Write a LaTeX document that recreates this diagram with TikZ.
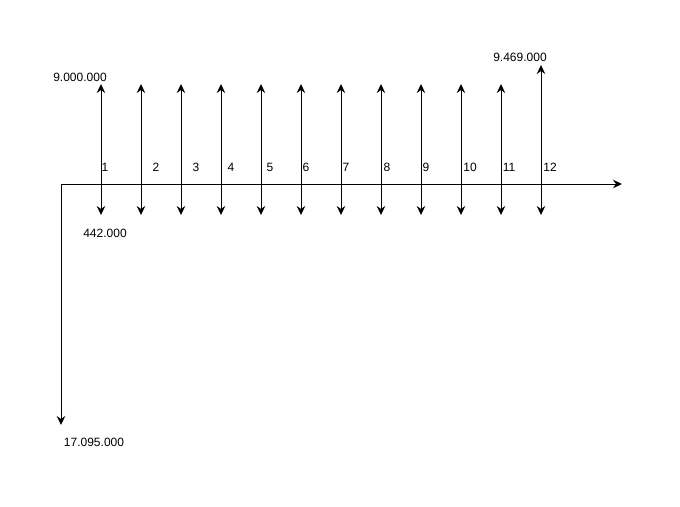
\documentclass[tikz,border=0pt]{standalone}
\usepackage{fontspec}
\setmainfont{Liberation Sans}
\usetikzlibrary{arrows.meta}
\begin{document}
\begin{tikzpicture}[x=1pt,y=-1pt,
  tipstyle/.style={},
  flow/.style={line width=1pt,{Stealth[length=9pt,width=8.5pt,inset=3pt]}-{Stealth[length=9pt,width=8.5pt,inset=3pt]}},
  axisline/.style={line width=1pt,-{Stealth[length=9pt,width=8.5pt,inset=3pt]}},
  lbl/.style={font=\fontsize{12pt}{14pt}\selectfont,inner sep=0pt}]
\useasboundingbox (0,0) rectangle (680,506);
\coordinate (o) at (61,184);
\coordinate (xend) at (622,184);
\coordinate (yend) at (61,425);
\draw[axisline] (o) -- (xend);
\draw[axisline] (o) -- (yend);
\foreach \i/\lx in {1/105,2/156,3/196,4/231,5/270,6/306,7/346,8/387,9/426,10/470,11/509} {
  \pgfmathsetmacro{\xx}{61+40*\i}
  \coordinate (t\i) at (\xx,84);
  \coordinate (b\i) at (\xx,215);
  \draw[flow] (b\i) -- (t\i);
  \node[lbl] (n\i) at (\lx,167) {\i};
}
\coordinate (t12) at (541,65);
\coordinate (b12) at (541,215);
\draw[flow] (b12) -- (t12);
\node[lbl] (n12) at (550,167) {12};
\node[lbl] (v1) at (80,77) {9.000.000};
\node[lbl] (v2) at (105,233) {442.000};
\node[lbl] (v3) at (520,57) {9.469.000};
\node[lbl] (v4) at (94,442) {17.095.000};
\end{tikzpicture}
\end{document}
